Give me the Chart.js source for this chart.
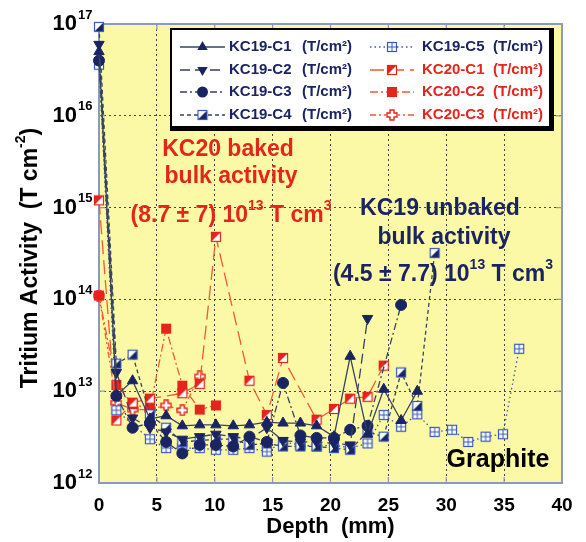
<!DOCTYPE html>
<html>
<head>
<meta charset="utf-8">
<script src="https://cdn.jsdelivr.net/npm/chart.js@4"></script>
<style>
  html, body { margin: 0; padding: 0; background: #fff; }
</style>
</head>
<body>
<canvas id="chart" width="586" height="542"></canvas>
<script>
// --- DATA ---
// depth of each slice in mm (shared by all cores)
const depths = [0, 1.5, 2.9, 4.4, 5.8, 7.2, 8.7, 10.1, 11.6, 13.0, 14.5, 15.9, 17.4, 18.8, 20.3, 21.7, 23.2, 24.6, 26.1, 27.5, 29.0, 30.5, 31.9, 33.4, 34.9, 36.3];

// tritium activity per slice (T/cm2), null = no measurement at that depth
const kc19c1 = [5e16, 9e12, 1.3e13, 5.0e12, 5.4e12, 4.2e12, 4.3e12, 4.3e12, 4.2e12, 4.3e12, 4.6e12, 4.5e12, 4.5e12, 4.2e12, 3.2e12, 2.4e13, 3.4e12, 1.05e13, 4.8e12, 1.0e13];
const kc19c2 = [6e16, 1.6e13, 5.1e12, 4.0e12, 3.6e12, 3.0e12, 3.2e12, 3.4e12, 3.2e12, 3.0e12, 4.0e12, 2.9e12, 2.8e12, 2.8e12, 2.7e12, 2.6e12, 6.2e13];
const kc19c3 = [4e16, 8.9e12, 4.0e12, 4.5e12, 2.8e12, 2.1e12, 2.6e12, 2.6e12, 2.5e12, 3.2e12, 2.8e12, 1.23e13, 3.3e12, 3.1e12, 3.1e12, 3.8e12, 4.2e12, null, 8.7e13];
const kc19c4 = [9.3e16, 2.0e13, 2.5e13, 5.6e12, 4.0e12, 2.8e12, 2.9e12, 3.0e12, 3.0e12, 2.6e12, 2.7e12, 2.5e12, 2.5e12, 2.5e12, 2.4e12, 2.3e12, 3.6e12, 3.2e12, 1.6e13, 6.9e12, 3.2e14];
const kc19c5 = [3.6e16, 6.2e12, null, 3.0e12, 2.4e12, 2.4e12, 2.4e12, 2.3e12, 2.3e12, 2.4e12, 2.2e12, 2.8e12, 2.6e12, 2.5e12, 2.6e12, 2.4e12, 2.7e12, 5.5e12, 4.1e12, 5.6e12, 3.6e12, 3.8e12, 2.8e12, 3.2e12, 3.4e12, 2.9e13];
const kc20c1 = [1.2e15, 4.8e12, 7.5e12, 8.3e12, null, 9.5e12, 1.2e13, 4.8e14, null, 1.3e13, 5.5e12, 2.3e13, null, 4.9e12, 6.4e12, 8.3e12, 8.7e12, 1.9e13];
const kc20c2 = [1.1e14, 1.17e13, 7.2e12, 6.5e12, 4.8e13, 1.15e13, 6.3e12, 7.0e12];
const kc20c3 = [1.1e14, 7.5e12, 6.3e12, 6.3e12, 7.0e12, 6.2e12, 1.45e13];

// axis ticks
const yTicks = [1e12, 1e13, 1e14, 1e15, 1e16, 1e17];
const xStep = 5;

// --- STYLE ---
const FONT = '"Liberation Sans", Arial, sans-serif';
const NAVY = '#1b2463';
const NAVY_LINE = '#36435f';
const BLUE = '#3a58b8';
const RED = '#e5241c';
const RED_LINE = '#f05a36';
const YELLOW = '#fcf9a6';
const FRAME = '#8a9abd';

Chart.defaults.font.family = FONT;

// small canvases used as point markers
function makeMarker(draw) {
  const c = document.createElement('canvas');
  c.width = 12; c.height = 12;
  draw(c.getContext('2d'));
  return c;
}
const halfNavy = makeMarker(g => {
  g.fillStyle = '#fff'; g.fillRect(1, 1, 10, 10);
  g.fillStyle = NAVY;
  g.beginPath(); g.moveTo(11, 1); g.lineTo(11, 11); g.lineTo(1, 11); g.closePath(); g.fill();
  g.strokeStyle = BLUE; g.lineWidth = 1.2; g.strokeRect(1.5, 1.5, 9, 9);
});
const hashed = makeMarker(g => {
  g.fillStyle = '#fff'; g.fillRect(1, 1, 10, 10);
  g.strokeStyle = BLUE; g.lineWidth = 1.2; g.strokeRect(1.5, 1.5, 9, 9);
  g.lineWidth = 1;
  g.beginPath(); g.moveTo(6, 1); g.lineTo(6, 11); g.moveTo(1, 6); g.lineTo(11, 6); g.stroke();
});
const halfRed = makeMarker(g => {
  g.fillStyle = '#fff'; g.fillRect(1, 1, 10, 10);
  g.fillStyle = RED;
  g.beginPath(); g.moveTo(1, 1); g.lineTo(11, 1); g.lineTo(1, 11); g.closePath(); g.fill();
  g.strokeStyle = RED; g.lineWidth = 1.2; g.strokeRect(1.5, 1.5, 9, 9);
});
const fullRed = makeMarker(g => {
  g.fillStyle = RED; g.fillRect(1, 1, 10, 10);
});
const plusRed = makeMarker(g => {
  g.fillStyle = '#fff'; g.strokeStyle = RED; g.lineWidth = 1.4;
  g.beginPath();
  g.moveTo(4, 1); g.lineTo(8, 1); g.lineTo(8, 4); g.lineTo(11, 4); g.lineTo(11, 8); g.lineTo(8, 8);
  g.lineTo(8, 11); g.lineTo(4, 11); g.lineTo(4, 8); g.lineTo(1, 8); g.lineTo(1, 4); g.lineTo(4, 4);
  g.closePath(); g.fill(); g.stroke();
});

// turn a value list into {x,y} points on the depth grid
function series(values) {
  const pts = [];
  values.forEach((v, i) => { if (v != null) pts.push({ x: depths[i], y: v }); });
  return pts;
}

function makeSet(label, values, lineColor, dash, style, extra) {
  return Object.assign({
    label: label,
    data: series(values),
    showLine: true,
    borderColor: lineColor,
    borderWidth: 1.3,
    borderDash: dash,
    pointStyle: style,
    pointRadius: 6,
    pointBackgroundColor: NAVY,
    pointBorderColor: NAVY,
    pointBorderWidth: 1,
    pointRotation: 0,
    tension: 0,
    clip: false
  }, extra || {});
}

const datasets = [
  makeSet('KC19-C1', kc19c1, NAVY_LINE, [], 'triangle'),
  makeSet('KC19-C2', kc19c2, NAVY_LINE, [10, 5], 'triangle', { pointRotation: 180 }),
  makeSet('KC19-C3', kc19c3, NAVY_LINE, [7, 3, 2, 3], 'circle', { pointRadius: 5.5 }),
  makeSet('KC19-C4', kc19c4, NAVY_LINE, [4, 3], halfNavy),
  makeSet('KC19-C5', kc19c5, BLUE, [1.5, 3], hashed),
  makeSet('KC20-C1', kc20c1, RED_LINE, [14, 6], halfRed),
  makeSet('KC20-C2', kc20c2, RED_LINE, [8, 3, 2, 3], fullRed),
  makeSet('KC20-C3', kc20c3, RED_LINE, [6, 3, 2, 3, 2, 3], plusRed)
];

// --- DRAWING HELPERS ---
// draw a line of text with superscript parts, centred on (cx, cy)
function richText(ctx, parts, cx, cy, color, size) {
  const supSize = Math.round(size * 0.6);
  let w = 0;
  parts.forEach(p => {
    ctx.font = 'bold ' + (p[1] ? supSize : size) + 'px ' + FONT;
    w += ctx.measureText(p[0]).width;
  });
  let x = cx - w / 2;
  ctx.fillStyle = color;
  ctx.textAlign = 'left';
  ctx.textBaseline = 'middle';
  parts.forEach(p => {
    ctx.font = 'bold ' + (p[1] ? supSize : size) + 'px ' + FONT;
    ctx.fillText(p[0], x, p[1] ? cy - size * 0.43 : cy);
    x += ctx.measureText(p[0]).width;
  });
}

function drawMarker(ctx, ds, x, y) {
  const st = ds.pointStyle;
  if (typeof st !== 'string') {
    ctx.drawImage(st, x - st.width / 2, y - st.height / 2);
    return;
  }
  ctx.save();
  ctx.fillStyle = NAVY;
  ctx.beginPath();
  if (st === 'circle') {
    ctx.arc(x, y, ds.pointRadius, 0, Math.PI * 2);
  } else {
    const r = ds.pointRadius;
    const rot = ds.pointRotation * Math.PI / 180;
    for (let k = 0; k < 3; k++) {
      const a = rot + k * Math.PI * 2 / 3;
      ctx.lineTo(x + Math.sin(a) * r, y - Math.cos(a) * r);
    }
    ctx.closePath();
  }
  ctx.fill();
  ctx.restore();
}

// background, frame, annotations, y labels and legend
const paper = {
  id: 'paper',
  beforeDraw(chart) {
    const { ctx, chartArea: a } = chart;
    ctx.save();
    ctx.fillStyle = '#fff';
    ctx.fillRect(0, 0, chart.width, chart.height);
    ctx.fillStyle = YELLOW;
    ctx.fillRect(a.left, a.top, a.right - a.left, a.bottom - a.top);
    ctx.restore();
  },
  beforeDatasetsDraw(chart) {
    const { ctx, chartArea: a, scales } = chart;
    ctx.save();
    // frame and inner tick marks
    ctx.strokeStyle = FRAME;
    ctx.lineWidth = 2;
    ctx.strokeRect(a.left, a.top, a.right - a.left, a.bottom - a.top);
    ctx.lineWidth = 1.2;
    ctx.beginPath();
    for (let v = xStep; v < 40; v += xStep) {
      const px = scales.x.getPixelForValue(v);
      ctx.moveTo(px, a.bottom); ctx.lineTo(px, a.bottom - 6);
      ctx.moveTo(px, a.top); ctx.lineTo(px, a.top + 6);
    }
    yTicks.slice(1, -1).forEach(v => {
      const py = scales.y.getPixelForValue(v);
      ctx.moveTo(a.left, py); ctx.lineTo(a.left + 6, py);
      ctx.moveTo(a.right, py); ctx.lineTo(a.right - 6, py);
    });
    ctx.stroke();

    // annotations
    richText(ctx, [['KC20 baked']], 228, 150, RED, 23);
    richText(ctx, [['bulk activity']], 231, 177, RED, 23);
    richText(ctx, [['(8.7 \u00b1 7) 10'], ['13', true], [' T cm'], ['3', true]], 231, 216, RED, 23);
    richText(ctx, [['KC19 unbaked']], 440, 209, NAVY, 23);
    richText(ctx, [['bulk activity']], 444, 238, NAVY, 23);
    richText(ctx, [['(4.5 \u00b1 7.7) 10'], ['13', true], [' T cm'], ['3', true]], 443, 275, NAVY, 23);
    richText(ctx, [['Graphite']], 498, 460, '#000', 25);
    ctx.restore();
  },
  afterDraw(chart) {
    const { ctx, scales } = chart;
    ctx.save();
    // y tick labels as 10^n
    yTicks.forEach(v => {
      const py = scales.y.getPixelForValue(v);
      ctx.fillStyle = '#000';
      ctx.textBaseline = 'middle';
      ctx.font = 'bold 22px ' + FONT;
      ctx.textAlign = 'right';
      ctx.fillText('10', 77, py);
      ctx.font = 'bold 13px ' + FONT;
      ctx.textAlign = 'left';
      ctx.fillText(String(Math.round(Math.log10(v))), 78, py - 9);
    });

    // y axis title
    ctx.save();
    ctx.translate(31, 258);
    ctx.rotate(-Math.PI / 2);
    richText(ctx, [['Tritium Activity  (T cm'], ['-2', true], [')']], 0, 0, '#000', 23);
    ctx.restore();

    // legend box with shadow
    ctx.fillStyle = '#000';
    ctx.fillRect(170, 28, 384, 103);
    ctx.fillStyle = '#fff';
    ctx.fillRect(172, 30, 377, 96);
    const rows = [47, 70, 92, 115];
    chart.data.datasets.forEach((ds, i) => {
      const col = i < 4 ? 0 : 1;
      const y = rows[i < 4 ? i : i - 4];
      const x0 = col === 0 ? 180 : 370;
      const x1 = col === 0 ? 225 : 414;
      ctx.save();
      ctx.strokeStyle = ds.borderColor;
      ctx.lineWidth = 1.3;
      ctx.setLineDash(ds.borderDash);
      ctx.beginPath(); ctx.moveTo(x0, y); ctx.lineTo(x1, y); ctx.stroke();
      ctx.restore();
      drawMarker(ctx, ds, (x0 + x1) / 2, y);
      ctx.fillStyle = ds.label.startsWith('KC20') ? RED : NAVY;
      ctx.font = 'bold 15px ' + FONT;
      ctx.textAlign = 'left';
      ctx.textBaseline = 'middle';
      ctx.fillText(ds.label, col === 0 ? 229 : 422, y);
      ctx.fillText('(T/cm\u00b2)', col === 0 ? 302 : 493, y);
    });
    ctx.restore();
  }
};

new Chart(document.getElementById('chart'), {
  type: 'scatter',
  data: { datasets: datasets },
  options: {
    responsive: false,
    animation: false,
    devicePixelRatio: 1,
    layout: { padding: { top: 24, right: 24, left: 0, bottom: 0 } },
    plugins: { legend: { display: false }, tooltip: { enabled: false } },
    scales: {
      x: {
        type: 'linear', min: 0, max: 40,
        afterFit: s => { s.height = 59; },
        ticks: { stepSize: xStep, color: '#000', font: { size: 19, weight: 'bold' }, padding: 11, maxRotation: 0 },
        grid: { color: '#444', lineWidth: 1, drawTicks: false },
        border: { display: false, dash: [2, 3] },
        title: { display: true, text: 'Depth  (mm)', color: '#000', font: { size: 22, weight: 'bold' }, padding: { top: 0, bottom: 2 } }
      },
      y: {
        type: 'logarithmic', min: 1e12, max: 1e17,
        afterFit: s => { s.width = 99; },
        afterBuildTicks: s => { s.ticks = yTicks.map(v => ({ value: v })); },
        ticks: { display: false },
        grid: { color: '#444', lineWidth: 1, drawTicks: false },
        border: { display: false, dash: [2, 3] }
      }
    }
  },
  plugins: [paper]
});
</script>
</body>
</html>
